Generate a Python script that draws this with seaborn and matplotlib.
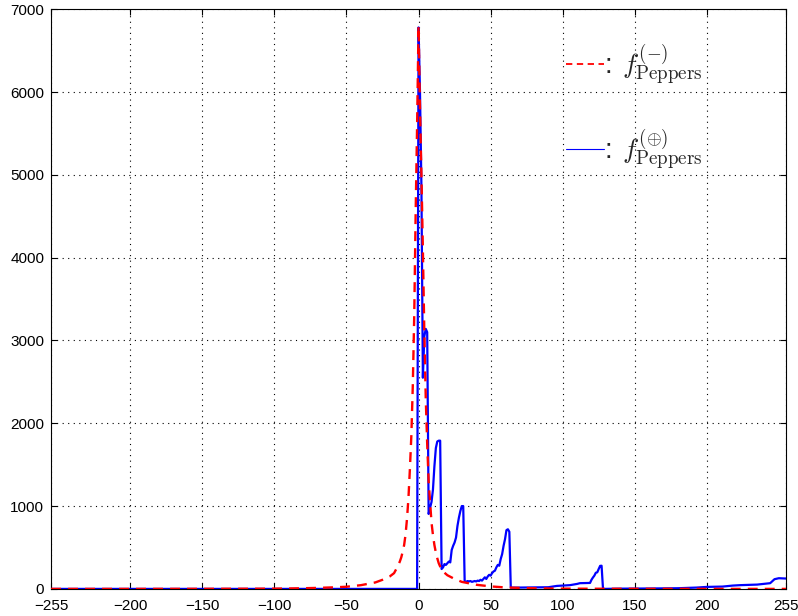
import numpy as np
import pandas as pd
import matplotlib
matplotlib.use("Agg")
import matplotlib.pyplot as plt
import seaborn as sns

# ---- data ----
red_x = [-255, -200, -150, -120, -100, -90, -80, -70, -60, -50, -40, -30, -25, -20, -17,
         -15, -14, -13, -12, -11, -10, -9, -8, -7, -6, -5, -4, -3, -2, -1, 0,
         1, 2, 3, 4, 5, 6, 7, 8, 9, 10, 11, 12, 13, 14, 15, 17, 20, 25, 30, 40,
         50, 60, 70, 80, 90, 100, 120, 150, 200, 255]
red_y = [0, 0, 1, 2, 3, 5, 8, 12, 18, 26, 45, 78, 110, 150, 190,
         255, 290, 330, 380, 450, 530, 660, 850, 1100, 1450, 1850, 2450, 3300, 4550, 5600, 6800,
         5800, 5000, 4100, 3100, 2300, 1750, 1300, 1050, 800, 650, 530, 440, 370, 310, 270, 210, 165, 120, 85, 50,
         30, 18, 12, 8, 5, 3, 2, 1, 0, 0]

blue_x = [-255, -1, 0, 1, 2, 3, 4, 5, 6, 7, 8, 9, 10, 11, 12, 13, 14, 15,
          16, 17, 18, 19, 20, 21, 22, 23, 24, 25, 26, 27, 28, 29, 30, 31,
          32, 33, 34, 35, 36, 37, 38, 39, 40, 41, 42, 43, 44, 45, 46, 47, 48, 49, 50,
          51, 52, 53, 54, 55, 56, 57, 58, 59, 60, 61, 62, 63,
          64, 70, 80, 90, 96, 100, 105, 110, 112, 119, 120, 121, 122, 123, 124, 125, 126, 127,
          128, 140, 160, 180, 193, 200, 211, 218, 223, 235, 244, 247, 250, 255]
blue_y = [0, 0, 6780, 6000, 4850, 2550, 3050, 3140, 3100, 905, 980, 1050, 1200, 1480, 1700, 1780, 1790, 1790,
          240, 260, 300, 290, 310, 330, 320, 470, 520, 560, 620, 760, 860, 940, 1000, 1000,
          90, 85, 95, 90, 95, 85, 90, 95, 90, 100, 95, 110, 100, 120, 140, 120, 150, 170, 160,
          190, 210, 220, 260, 290, 280, 360, 420, 520, 600, 710, 720, 690,
          15, 16, 18, 20, 36, 40, 45, 60, 69, 72, 110, 137, 160, 195, 200, 240, 278, 280,
          0, 3, 5, 8, 16, 24, 28, 40, 45, 52, 69, 117, 129, 125]

xticks = [-255, -200, -150, -100, -50, 0, 50, 100, 150, 200, 255]
yticks = [0, 1000, 2000, 3000, 4000, 5000, 6000, 7000]

label_minus = r":$\;\,f^{(-)}_{\mathrm{Peppers}}$"
label_plus = r":$\;\,f^{(\oplus)}_{\mathrm{Peppers}}$"

df_red = pd.DataFrame({"x": red_x, "y": red_y})
df_blue = pd.DataFrame({"x": blue_x, "y": blue_y})

sns.set_style("white")
plt.rcParams["font.family"] = ["Liberation Sans", "DejaVu Sans"]
plt.rcParams["mathtext.fontset"] = "cm"

fig = plt.figure(figsize=(7.98, 6.16), dpi=100)
ax = fig.add_axes([0.064, 0.044, 0.921, 0.941])

sns.lineplot(data=df_blue, x="x", y="y", ax=ax, color="#0000ff", lw=1.6,
             label=label_plus, zorder=2, estimator=None)
sns.lineplot(data=df_red, x="x", y="y", ax=ax, color="#ff0000", lw=1.7,
             dashes=(4.2, 3.0), label=label_minus, zorder=3, estimator=None)

ax.set_xlim(-255, 255)
ax.set_ylim(0, 7000)
ax.set_xticks(xticks)
ax.set_yticks(yticks)
ax.set_xlabel("")
ax.set_ylabel("")
ax.tick_params(direction="in", length=4, width=0.8, labelsize=11, colors="black",
               top=True, right=True, bottom=True, left=True)
ax.tick_params(axis="x", pad=7)
ax.tick_params(axis="y", pad=5)
ax.grid(True, color="black", linestyle=(0, (1, 4)), linewidth=0.8)
for s in ax.spines.values():
    s.set_visible(True)
    s.set_color("black")
    s.set_linewidth(0.8)

handles, labels = ax.get_legend_handles_labels()
order = [1, 0]
leg = ax.legend([handles[i] for i in order], [labels[i] for i in order],
                loc="upper left", bbox_to_anchor=(0.668, 0.985), frameon=False,
                fontsize=19.5, handlelength=1.4, handletextpad=0.0, labelspacing=1.45)
leg.get_lines()[1].set_linewidth(0.8)
leg.get_lines()[0].set_linewidth(1.3)
leg.get_lines()[0].set_dashes((3.5, 2.5))

fig.savefig("out.png", dpi=100)
